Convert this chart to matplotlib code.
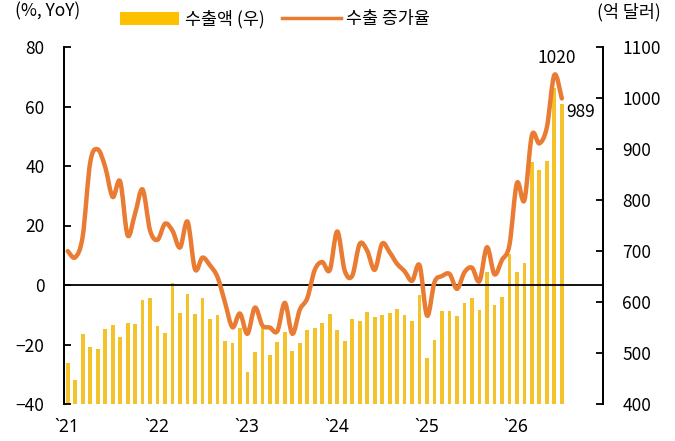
import numpy as np
import matplotlib
matplotlib.use("Agg")
import matplotlib.pyplot as plt
import matplotlib.transforms as mtransforms
from matplotlib.path import Path
from matplotlib.patches import PathPatch, Patch
from matplotlib.lines import Line2D

plt.rcParams['font.family'] = ['Noto Sans CJK KR', 'DejaVu Sans']

# monthly exports (100m USD), Jan 2021 -> Jul 2026
export_val = [
    480, 448, 538, 512, 507, 548, 554, 532, 559, 556, 604, 607,
    553, 539, 638, 578, 616, 577, 607, 566, 574, 524, 519, 549,
    463, 501, 551, 496, 522, 542, 503, 519, 546, 550, 558, 576,
    546, 524, 566, 562, 581, 571, 575, 579, 587, 575, 563, 614,
    491, 526, 582, 582, 573, 598, 608, 584, 659, 595, 610, 695,
    659, 676, 875, 859, 877, 1020, 989,
]
# export growth (% YoY)
growth = [
    11.4, 9.3, 16.4, 41.2, 45.6, 39.7, 29.6, 34.8, 16.7, 24.1, 32.1, 18.3,
    15.2, 20.6, 18.2, 12.6, 21.3, 5.3, 9.2, 6.6, 2.7, -5.8, -14.2, -9.6,
    -16.4, -7.6, -13.6, -14.3, -15.5, -6.0, -16.4, -8.3, -4.4, 5.1, 7.7, 5.0,
    18.0, 4.8, 3.1, 13.8, 11.5, 5.1, 13.9, 11.0, 7.1, 4.6, 1.4, 6.6,
    -10.3, 1.0, 3.0, 3.7, -1.3, 4.3, 5.8, 1.3, 12.7, 3.6, 8.4, 13.4,
    34.2, 28.5, 50.3, 47.6, 53.0, 70.6, 62.7,
]
year_labels = ['`21', '`22', '`23', '`24', '`25', '`26']

BAR_COLOR = '#F4C22B'
LINE_COLOR = '#E97B33'


def smooth_path(xs, ys):
    # excel style smoothed line as bezier segments through the points
    pts = np.column_stack([xs, ys]).astype(float)
    verts = [pts[0]]
    codes = [Path.MOVETO]
    n = len(pts)
    for i in range(n - 1):
        p0 = pts[i - 1] if i > 0 else pts[i]
        p1 = pts[i]
        p2 = pts[i + 1]
        p3 = pts[i + 2] if i + 2 < n else pts[i + 1]
        c1 = p1 + (p2 - p0) / 6.0
        c2 = p2 - (p3 - p1) / 6.0
        verts += [c1, c2, p2]
        codes += [Path.CURVE4] * 3
    return Path(verts, codes)


fig = plt.figure(figsize=(6.75, 4.41), dpi=100)
ax_bar = fig.add_axes([64 / 675, 1 - 404 / 441, (603 - 64) / 675, (404 - 47) / 441])
ax_line = ax_bar.twinx()

x = np.arange(len(export_val))
ax_bar.bar(x, export_val, width=0.5, color=BAR_COLOR, zorder=1)
ax_bar.set_ylim(400, 1100)
ax_bar.set_yticks(range(400, 1101, 100))
ax_bar.set_xlim(-0.5, 71.5)

ax_line.add_patch(PathPatch(smooth_path(x, growth), facecolor='none',
                            edgecolor=LINE_COLOR, lw=3.2, capstyle='round',
                            joinstyle='round', zorder=3))
ax_line.set_ylim(-40, 80)
ax_line.set_yticks(range(-40, 81, 20))

# left axis = growth, right axis = exports
ax_line.yaxis.tick_left()
ax_line.yaxis.set_label_position('left')
ax_bar.yaxis.tick_right()

tick_pos = [-0.5 + 12 * k for k in range(len(year_labels))]
ax_bar.set_xticks(tick_pos)
ax_bar.set_xticklabels(year_labels, family=['Noto Sans', 'DejaVu Sans'])

for a in (ax_bar, ax_line):
    a.spines['top'].set_visible(False)
    for s in ('left', 'right'):
        a.spines[s].set_linewidth(1.3)
        a.spines[s].set_color('black')

ax_bar.spines['bottom'].set_visible(False)
ax_bar.tick_params(axis='x', length=0, pad=10, labelsize=12.5)
ax_bar.tick_params(axis='y', direction='in', length=5, width=1.3, pad=14, labelsize=12.5)
ax_bar.tick_params(axis='y', which='both', left=False, right=True, labelleft=False, labelright=True)

# nudge the year labels a little to the right, like the original
shift = mtransforms.ScaledTranslation(3 / 100, 0, fig.dpi_scale_trans)
for lbl in ax_bar.get_xticklabels():
    lbl.set_transform(lbl.get_transform() + shift)

ax_line.spines['bottom'].set_position(('data', 0))
ax_line.spines['bottom'].set_linewidth(1.3)
ax_line.tick_params(axis='x', direction='in', length=5, width=1.3, labelbottom=False)
ax_line.tick_params(axis='y', direction='in', length=5, width=1.3, pad=14, labelsize=12.5,
                    left=True, right=False, labelleft=True, labelright=False)

# value labels for the last two months
ax_bar.annotate('1020', xy=(65, export_val[65]), xytext=(2, 30), textcoords='offset pixels',
                ha='center', va='center', fontsize=12.5)
ax_bar.annotate('989', xy=(66, export_val[66]), xytext=(4, -8), textcoords='offset pixels',
                ha='left', va='center', fontsize=12.5)

fig.text(15 / 675, 1 - 11 / 441, '(%, YoY)', ha='left', va='center', fontsize=12.5)
fig.text(597 / 675, 1 - 12 / 441, '(억 달러)', ha='left', va='center', fontsize=12.5)

handles = [Patch(facecolor='#FFC000', edgecolor='none'),
           Line2D([], [], color=LINE_COLOR, lw=2.5)]
fig.legend(handles, ['수출액 (우)', '수출 증가율'], loc='center',
           bbox_to_anchor=(275 / 675, 1 - 19 / 441), ncol=2, frameon=False,
           fontsize=12.5, handlelength=3.4, handleheight=0.75, handletextpad=0.3,
           columnspacing=1.0, borderpad=0, borderaxespad=0)

fig.savefig('out.png', dpi=100)
